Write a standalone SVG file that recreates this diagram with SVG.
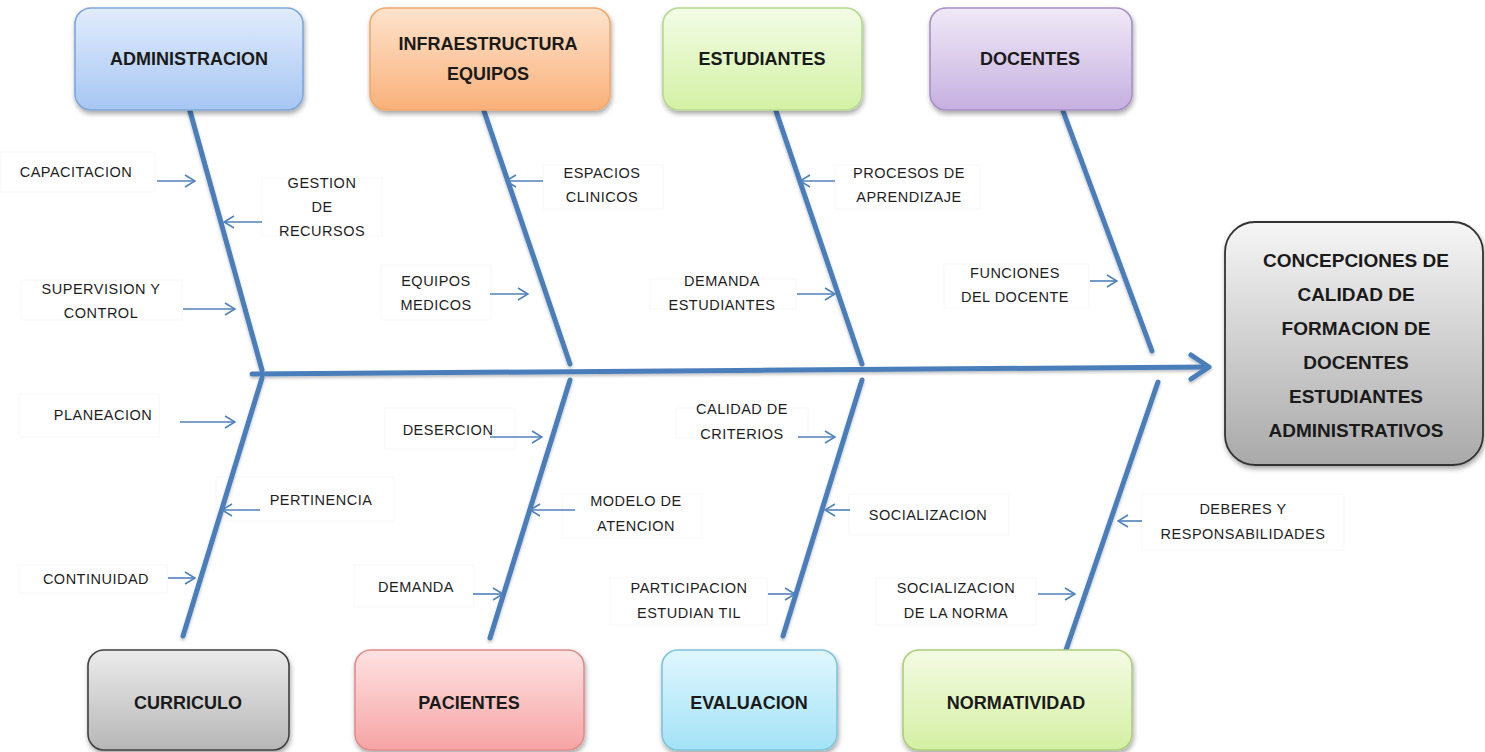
<svg xmlns="http://www.w3.org/2000/svg" width="1485" height="752" viewBox="0 0 1485 752">
  <defs>
    <style>
      .cat { stroke-width: 1.6; }
      .cat-text { font-family: "Liberation Sans", Arial, sans-serif; font-weight: bold; font-size: 18px; fill: #1a1a1a; text-anchor: middle; }
      .effect-text { font-family: "Liberation Sans", Arial, sans-serif; font-weight: bold; font-size: 19px; fill: #1a1a1a; text-anchor: middle; }
      .lbl { font-family: "Liberation Sans", Arial, sans-serif; font-size: 14.5px; letter-spacing: 0.5px; fill: #1e1e1e; text-anchor: middle; }
      .lblbox { fill: #ffffff; stroke: #f7f7f7; stroke-width: 1; }
      .bone { stroke: #4a7ebb; stroke-width: 5; fill: none; stroke-linecap: round; }
      .spine { stroke: #4a7ebb; stroke-width: 5; fill: none; stroke-linecap: round; }
      .cause { stroke: #4f81bd; stroke-width: 1.6; fill: none; marker-end: url(#open); }
    </style>
    <marker id="open" viewBox="0 0 12 14" refX="11" refY="7" markerWidth="12" markerHeight="14" markerUnits="userSpaceOnUse" orient="auto">
      <path d="M1,1 L11,7 L1,13" fill="none" stroke="#4f81bd" stroke-width="1.6"/>
    </marker>
    <filter id="shadow" x="-10%" y="-10%" width="125%" height="130%">
      <feDropShadow dx="1" dy="3" stdDeviation="2.5" flood-color="#000" flood-opacity="0.35"/>
    </filter>
    <filter id="lineShadow" x="-5%" y="-50%" width="110%" height="200%">
      <feDropShadow dx="0" dy="2" stdDeviation="1.5" flood-color="#000" flood-opacity="0.25"/>
    </filter>
    <linearGradient id="gBlue" x1="0" y1="0" x2="0" y2="1"><stop offset="0" stop-color="#e1ecfc"/><stop offset="1" stop-color="#a6c6f3"/></linearGradient>
    <linearGradient id="gOrange" x1="0" y1="0" x2="0" y2="1"><stop offset="0" stop-color="#fee3cc"/><stop offset="1" stop-color="#f9b07a"/></linearGradient>
    <linearGradient id="gGreen" x1="0" y1="0" x2="0" y2="1"><stop offset="0" stop-color="#f3fce6"/><stop offset="1" stop-color="#d3f1a4"/></linearGradient>
    <linearGradient id="gPurple" x1="0" y1="0" x2="0" y2="1"><stop offset="0" stop-color="#f0e9f7"/><stop offset="1" stop-color="#c6b0e0"/></linearGradient>
    <linearGradient id="gGray" x1="0" y1="0" x2="0" y2="1"><stop offset="0" stop-color="#ececec"/><stop offset="1" stop-color="#b6b6b6"/></linearGradient>
    <linearGradient id="gPink" x1="0" y1="0" x2="0" y2="1"><stop offset="0" stop-color="#fee2e2"/><stop offset="1" stop-color="#f6a4a4"/></linearGradient>
    <linearGradient id="gCyan" x1="0" y1="0" x2="0" y2="1"><stop offset="0" stop-color="#e0f7fe"/><stop offset="1" stop-color="#a3e2f6"/></linearGradient>
    <linearGradient id="gLime" x1="0" y1="0" x2="0" y2="1"><stop offset="0" stop-color="#f4fbe4"/><stop offset="1" stop-color="#d4efa2"/></linearGradient>
    <linearGradient id="gEffect" x1="0" y1="0" x2="0" y2="1"><stop offset="0" stop-color="#f6f6f6"/><stop offset="1" stop-color="#a9a9a9"/></linearGradient>
  </defs>

  <rect width="1485" height="752" fill="#ffffff"/>

  <!-- cause labels (drawn first so the bones pass over their frames) -->
  <g id="capacitacion">
    <rect class="lblbox" x="1" y="152" width="154" height="40"/>
    <text class="lbl" x="76" y="177">CAPACITACION</text>
  </g>
  <g id="gestion-recursos">
    <rect class="lblbox" x="262" y="178" width="120" height="58"/>
    <text class="lbl" x="322" y="188">GESTION</text>
    <text class="lbl" x="322" y="212">DE</text>
    <text class="lbl" x="322" y="236">RECURSOS</text>
  </g>
  <g id="supervision">
    <rect class="lblbox" x="21" y="280" width="161" height="40"/>
    <text class="lbl" x="101" y="294">SUPERVISION Y</text>
    <text class="lbl" x="101" y="318">CONTROL</text>
  </g>
  <g id="espacios">
    <rect class="lblbox" x="543" y="165" width="120" height="44"/>
    <text class="lbl" x="602" y="178">ESPACIOS</text>
    <text class="lbl" x="602" y="202">CLINICOS</text>
  </g>
  <g id="equipos-medicos">
    <rect class="lblbox" x="381" y="265" width="110" height="55"/>
    <text class="lbl" x="436" y="286">EQUIPOS</text>
    <text class="lbl" x="436" y="310">MEDICOS</text>
  </g>
  <g id="procesos">
    <rect class="lblbox" x="835" y="165" width="145" height="44"/>
    <text class="lbl" x="909" y="178">PROCESOS DE</text>
    <text class="lbl" x="909" y="202">APRENDIZAJE</text>
  </g>
  <g id="demanda-estudiantes">
    <rect class="lblbox" x="650" y="279" width="146" height="30"/>
    <text class="lbl" x="722" y="286">DEMANDA</text>
    <text class="lbl" x="722" y="310">ESTUDIANTES</text>
  </g>
  <g id="funciones">
    <rect class="lblbox" x="944" y="264" width="145" height="44"/>
    <text class="lbl" x="1015" y="278">FUNCIONES</text>
    <text class="lbl" x="1015" y="302">DEL DOCENTE</text>
  </g>
  <g id="planeacion">
    <rect class="lblbox" x="19" y="394" width="140" height="43"/>
    <text class="lbl" x="103" y="420">PLANEACION</text>
  </g>
  <g id="desercion">
    <rect class="lblbox" x="385" y="408" width="130" height="41"/>
    <text class="lbl" x="448" y="435">DESERCION</text>
  </g>
  <g id="calidad-criterios">
    <rect class="lblbox" x="676" y="408" width="132" height="30"/>
    <text class="lbl" x="742" y="414">CALIDAD DE</text>
    <text class="lbl" x="742" y="439">CRITERIOS</text>
  </g>
  <g id="pertinencia">
    <rect class="lblbox" x="216" y="477" width="178" height="44"/>
    <text class="lbl" x="321" y="505">PERTINENCIA</text>
  </g>
  <g id="modelo-atencion">
    <rect class="lblbox" x="562" y="494" width="140" height="44"/>
    <text class="lbl" x="636" y="506">MODELO DE</text>
    <text class="lbl" x="636" y="531">ATENCION</text>
  </g>
  <g id="socializacion">
    <rect class="lblbox" x="849" y="494" width="160" height="41"/>
    <text class="lbl" x="928" y="520">SOCIALIZACION</text>
  </g>
  <g id="deberes">
    <rect class="lblbox" x="1142" y="494" width="202" height="56"/>
    <text class="lbl" x="1243" y="514">DEBERES Y</text>
    <text class="lbl" x="1243" y="539">RESPONSABILIDADES</text>
  </g>
  <g id="continuidad">
    <rect class="lblbox" x="19" y="565" width="148" height="28"/>
    <text class="lbl" x="96" y="584">CONTINUIDAD</text>
  </g>
  <g id="demanda">
    <rect class="lblbox" x="354" y="565" width="120" height="42"/>
    <text class="lbl" x="416" y="592">DEMANDA</text>
  </g>
  <g id="participacion">
    <rect class="lblbox" x="610" y="578" width="157" height="47"/>
    <text class="lbl" x="689" y="593">PARTICIPACION</text>
    <text class="lbl" x="689" y="618">ESTUDIAN TIL</text>
  </g>
  <g id="socializacion-norma">
    <rect class="lblbox" x="876" y="578" width="160" height="47"/>
    <text class="lbl" x="956" y="593">SOCIALIZACION</text>
    <text class="lbl" x="956" y="618">DE LA NORMA</text>
  </g>

  <!-- bones and spine -->
  <g id="connectors">
    <g filter="url(#lineShadow)">
      <line class="spine" x1="252" y1="374" x2="1208" y2="367"/>
      <path class="spine" d="M1191,355 L1209,367 L1191,379" stroke-linejoin="round"/>
      <line class="bone" x1="190" y1="111" x2="262" y2="370"/>
      <line class="bone" x1="484" y1="111" x2="570" y2="364"/>
      <line class="bone" x1="776" y1="111" x2="862" y2="364"/>
      <line class="bone" x1="1063" y1="111" x2="1152" y2="351"/>
      <line class="bone" x1="262" y1="378" x2="183" y2="636"/>
      <line class="bone" x1="570" y1="380" x2="490" y2="638"/>
      <line class="bone" x1="862" y1="380" x2="783" y2="636"/>
      <line class="bone" x1="1158" y1="382" x2="1066" y2="650"/>
    </g>
    <!-- cause arrows -->
    <line class="cause" x1="157" y1="181" x2="195" y2="181"/>
    <line class="cause" x1="262" y1="222" x2="224" y2="222"/>
    <line class="cause" x1="183" y1="309" x2="235" y2="309"/>
    <line class="cause" x1="490" y1="294" x2="528" y2="294"/>
    <line class="cause" x1="543" y1="181" x2="506" y2="181"/>
    <line class="cause" x1="835" y1="181" x2="800" y2="181"/>
    <line class="cause" x1="797" y1="294" x2="835" y2="294"/>
    <line class="cause" x1="1090" y1="281" x2="1117" y2="281"/>
    <line class="cause" x1="180" y1="422" x2="235" y2="422"/>
    <line class="cause" x1="490" y1="437" x2="542" y2="437"/>
    <line class="cause" x1="798" y1="437" x2="835" y2="437"/>
    <line class="cause" x1="260" y1="510" x2="222" y2="510"/>
    <line class="cause" x1="575" y1="510" x2="530" y2="510"/>
    <line class="cause" x1="850" y1="510" x2="825" y2="510"/>
    <line class="cause" x1="1142" y1="521" x2="1118" y2="521"/>
    <line class="cause" x1="168" y1="578" x2="195" y2="578"/>
    <line class="cause" x1="473" y1="594" x2="503" y2="594"/>
    <line class="cause" x1="768" y1="594" x2="795" y2="594"/>
    <line class="cause" x1="1038" y1="594" x2="1075" y2="594"/>
  </g>

  <!-- category boxes, top row -->
  <g id="administracion">
    <rect class="cat" x="75" y="8" width="228" height="102" rx="16" fill="url(#gBlue)" stroke="#7ea6d8" filter="url(#shadow)"/>
    <text class="cat-text" x="189" y="65">ADMINISTRACION</text>
  </g>
  <g id="infraestructura">
    <rect class="cat" x="370" y="8" width="240" height="102" rx="16" fill="url(#gOrange)" stroke="#f1a86b" filter="url(#shadow)"/>
    <text class="cat-text" x="488" y="50">INFRAESTRUCTURA</text>
    <text class="cat-text" x="488" y="80">EQUIPOS</text>
  </g>
  <g id="estudiantes">
    <rect class="cat" x="663" y="8" width="199" height="102" rx="16" fill="url(#gGreen)" stroke="#b5d98e" filter="url(#shadow)"/>
    <text class="cat-text" x="762" y="65">ESTUDIANTES</text>
  </g>
  <g id="docentes">
    <rect class="cat" x="930" y="8" width="202" height="102" rx="16" fill="url(#gPurple)" stroke="#a68fc6" filter="url(#shadow)"/>
    <text class="cat-text" x="1030" y="65">DOCENTES</text>
  </g>

  <!-- category boxes, bottom row -->
  <g id="curriculo">
    <rect class="cat" x="88" y="650" width="201" height="100" rx="16" fill="url(#gGray)" stroke="#404040" filter="url(#shadow)"/>
    <text class="cat-text" x="188" y="709">CURRICULO</text>
  </g>
  <g id="pacientes">
    <rect class="cat" x="355" y="650" width="229" height="100" rx="16" fill="url(#gPink)" stroke="#e08c8c" filter="url(#shadow)"/>
    <text class="cat-text" x="469" y="709">PACIENTES</text>
  </g>
  <g id="evaluacion">
    <rect class="cat" x="662" y="650" width="175" height="100" rx="16" fill="url(#gCyan)" stroke="#7fc4dc" filter="url(#shadow)"/>
    <text class="cat-text" x="749" y="709">EVALUACION</text>
  </g>
  <g id="normatividad">
    <rect class="cat" x="903" y="650" width="229" height="100" rx="16" fill="url(#gLime)" stroke="#abcf7c" filter="url(#shadow)"/>
    <text class="cat-text" x="1016" y="709">NORMATIVIDAD</text>
  </g>

  <!-- effect -->
  <g id="efecto">
    <rect x="1225" y="222" width="258" height="243" rx="30" fill="url(#gEffect)" stroke="#333333" stroke-width="1.8" filter="url(#shadow)"/>
    <text class="effect-text" x="1356" y="267">CONCEPCIONES DE</text>
    <text class="effect-text" x="1356" y="301">CALIDAD DE</text>
    <text class="effect-text" x="1356" y="335">FORMACION DE</text>
    <text class="effect-text" x="1356" y="369">DOCENTES</text>
    <text class="effect-text" x="1356" y="403">ESTUDIANTES</text>
    <text class="effect-text" x="1356" y="437">ADMINISTRATIVOS</text>
  </g>
</svg>
